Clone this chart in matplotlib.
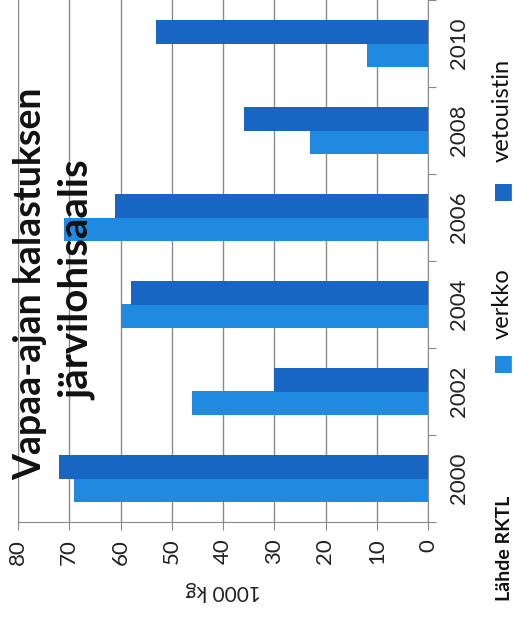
import matplotlib
matplotlib.use("Agg")
import matplotlib.pyplot as plt
import numpy as np

years = ["2000", "2002", "2004", "2006", "2008", "2010"]
verkko = [69, 46, 60, 71, 23, 12]
vetouistin = [72, 30, 58, 61, 36, 53]
value_ticks = [0, 10, 20, 30, 40, 50, 60, 70, 80]

W, H = 514, 617
fig = plt.figure(figsize=(W / 100, H / 100), dpi=100)
plt.rcParams['font.family'] = ['Lato', 'DejaVu Sans']

ax = fig.add_axes([18 / W, (H - 522) / H, (428 - 18) / W, 522 / H])
pos = np.arange(len(years))
bh = 0.275
c_light = "#1f8ae0"
c_dark = "#1866c4"
ax.barh(pos - bh / 2, verkko, height=bh, color=c_light, label="verkko", zorder=2)
ax.barh(pos + bh / 2, vetouistin, height=bh, color=c_dark, label="vetouistin", zorder=2)

ax.set_xlim(80, 0)
ax.set_ylim(-0.5, 5.5)
ax.set_xticks(value_ticks)
ax.set_xticklabels([str(v) for v in value_ticks], rotation=90, fontsize=16, color="#222222")
ax.xaxis.grid(True, color="#8a8a8a", linewidth=1.0, zorder=0)
ax.set_axisbelow(True)

ax.yaxis.tick_right()
ax.set_yticks(np.arange(-0.5, 6.0, 1.0))
ax.set_yticklabels([])
ax.set_yticks(pos, minor=True)
ax.set_yticklabels(years, minor=True, rotation=90, fontsize=16, color="#222222", va="center")
ax.tick_params(axis="y", which="minor", length=0, pad=15)
ax.tick_params(axis="y", which="major", length=6, color="#8a8a8a", direction="out")
ax.tick_params(axis="x", length=6, color="#8a8a8a", pad=6)

for s in ["top", "left"]:
    ax.spines[s].set_visible(False)
ax.spines["bottom"].set_color("#8a8a8a")
ax.spines["right"].set_color("#8a8a8a")

ax.set_xlabel("1000 kg", rotation=180, fontsize=15, color="#222222", labelpad=12)

fig.text(30 / W, 1 - 284 / H, "Vapaa-ajan kalastuksen", rotation=90, fontsize=27,
         fontweight="bold", ha="center", va="center", color="#111111")
fig.text(78 / W, 1 - 280 / H, "järvilohisaalis", rotation=90, fontsize=29,
         fontweight="bold", ha="center", va="center", color="#111111")
fig.text(505 / W, 1 - 548 / H, "Lähde RKTL", rotation=90, fontsize=14,
         fontweight="bold", ha="center", va="center", color="#111111")

# legend
fig.text(501 / W, 1 - 362 / H, "■", rotation=90, fontsize=16, ha="center", va="center", color=c_light)
fig.text(502 / W, 1 - 304 / H, "verkko", rotation=90, fontsize=17, ha="center", va="center", color="#111111")
fig.text(501 / W, 1 - 190 / H, "■", rotation=90, fontsize=16, ha="center", va="center", color=c_dark)
fig.text(502 / W, 1 - 110 / H, "vetouistin", rotation=90, fontsize=17, ha="center", va="center", color="#111111")

fig.savefig("out.png", dpi=100)
